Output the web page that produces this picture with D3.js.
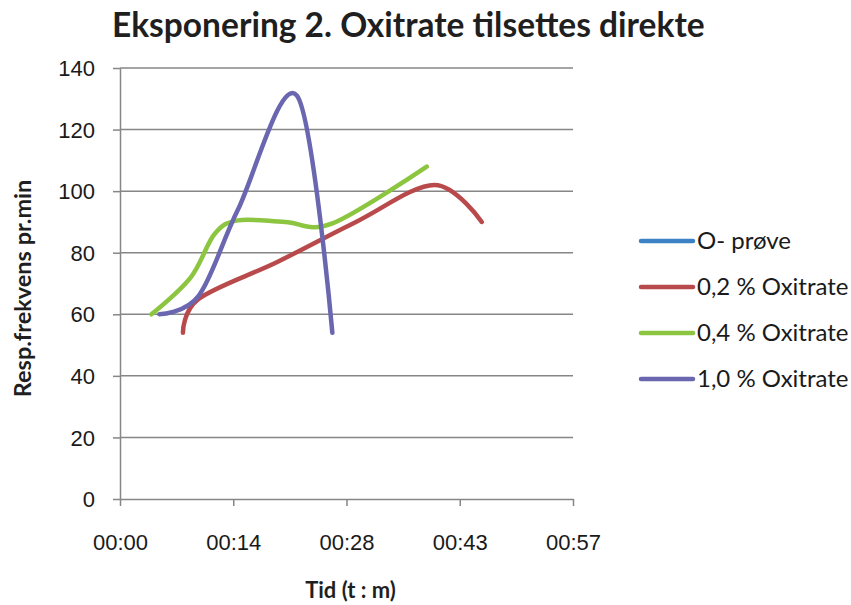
<!DOCTYPE html>
<html>
<head>
<meta charset="utf-8">
<script src="https://cdn.jsdelivr.net/npm/d3@7"></script>
<style>
  body { margin: 0; background: #fff; }
  svg { font-family: Lato, 'Open Sans', sans-serif; }
</style>
</head>
<body>
<div id="chart"></div>
<script>
// values, time in minutes
const seriesNames = ['O- prøve', '0,2 % Oxitrate', '0,4 % Oxitrate', '1,0 % Oxitrate'];
const colors = ['#3d82c4', '#b84a4c', '#8cc540', '#6a66b0'];

const timeO = [];
const valueO = [];
const time02 = [8, 10, 20, 30, 40, 46];
const value02 = [54, 65, 77, 90, 102, 90];
const time04 = [4, 9, 12, 15, 21, 27, 39];
const value04 = [60, 72, 86, 90.5, 90, 89.5, 108];
const time10 = [5, 10, 15, 22.5, 27];
const value10 = [60, 66, 94, 131, 54];

const yTicks = [0, 20, 40, 60, 80, 100, 120, 140];
const xTicks = [0, 14.4, 28.8, 43.2, 57.6]; // 0.01 day steps

const width = 851, height = 605;
const margin = { top: 68, right: 278, bottom: 106, left: 120 };
const innerW = width - margin.left - margin.right;
const innerH = height - margin.top - margin.bottom;

const svg = d3.select('#chart')
  .append('svg')
  .attr('width', width)
  .attr('height', height);

const g = svg.append('g')
  .attr('transform', `translate(${margin.left},${margin.top})`);

const x = d3.scaleLinear().domain([0, 57.6]).range([0, innerW]);
const y = d3.scaleLinear().domain([0, 140]).range([innerH, 0]);

const fmtTime = m => {
  const h = Math.floor(m / 60), mm = Math.floor(m % 60);
  return String(h).padStart(2, '0') + ':' + String(mm).padStart(2, '0');
};

// gridlines
g.append('g')
  .selectAll('line')
  .data(yTicks.slice(1))
  .enter().append('line')
  .attr('x1', 0).attr('x2', innerW)
  .attr('y1', d => y(d)).attr('y2', d => y(d))
  .attr('stroke', '#868686')
  .attr('stroke-width', 1.5);

// axes
const yAxis = g.append('g')
  .call(d3.axisLeft(y).tickValues(yTicks).tickSize(7).tickPadding(18).tickSizeOuter(0));
const xAxis = g.append('g')
  .attr('transform', `translate(0,${innerH})`)
  .call(d3.axisBottom(x).tickValues(xTicks).tickFormat(fmtTime).tickSize(7).tickPadding(28).tickSizeOuter(0));

[xAxis, yAxis].forEach(a => {
  a.selectAll('.domain').attr('stroke', '#868686').attr('stroke-width', 1.5);
  a.selectAll('.tick line').attr('stroke', '#868686').attr('stroke-width', 1.5);
  a.selectAll('text').attr('fill', '#1a1a1a').style('font-size', '22px');
});
yAxis.selectAll('text').attr('dy', '0.35em');

// series
const series = [
  { name: seriesNames[0], t: timeO, v: valueO },
  { name: seriesNames[1], t: time02, v: value02 },
  { name: seriesNames[2], t: time04, v: value04 },
  { name: seriesNames[3], t: time10, v: value10 }
];

const line = d3.line()
  .x(d => x(d[0]))
  .y(d => y(d[1]))
  .curve(d3.curveCardinal.tension(0));

g.append('g')
  .selectAll('path')
  .data(series.filter(s => s.t.length))
  .enter().append('path')
  .attr('d', s => line(s.t.map((t, i) => [t, s.v[i]])))
  .attr('fill', 'none')
  .attr('stroke', s => colors[seriesNames.indexOf(s.name)])
  .attr('stroke-width', 4.5)
  .attr('stroke-linecap', 'round');

// titles
svg.append('text')
  .attr('x', 112).attr('y', 37)
  .style('font-size', '33.5px').style('font-weight', 'bold')
  .attr('fill', '#1f1f1f')
  .text('Eksponering 2. Oxitrate tilsettes direkte');

svg.append('text')
  .attr('transform', `translate(31,${margin.top + innerH / 2 + 5}) rotate(-90)`)
  .attr('text-anchor', 'middle')
  .style('font-size', '23.5px').style('font-weight', 'bold')
  .attr('fill', '#1f1f1f')
  .text('Resp.frekvens pr.min');

svg.append('text')
  .attr('x', margin.left + innerW / 2 + 4).attr('y', 598)
  .attr('text-anchor', 'middle')
  .style('font-size', '22px').style('font-weight', 'bold')
  .attr('fill', '#1f1f1f')
  .text('Tid (t : m)');

// legend
const legend = svg.append('g')
  .selectAll('g')
  .data(seriesNames)
  .enter().append('g')
  .attr('transform', (d, i) => `translate(641,${241 + i * 46})`);

legend.append('line')
  .attr('x1', 0).attr('x2', 52)
  .attr('stroke', (d, i) => colors[i])
  .attr('stroke-width', 4.5)
  .attr('stroke-linecap', 'round');

legend.append('text')
  .attr('x', 56).attr('dy', '0.35em')
  .style('font-size', '24px')
  .attr('fill', '#1a1a1a')
  .text(d => d);
</script>
</body>
</html>
